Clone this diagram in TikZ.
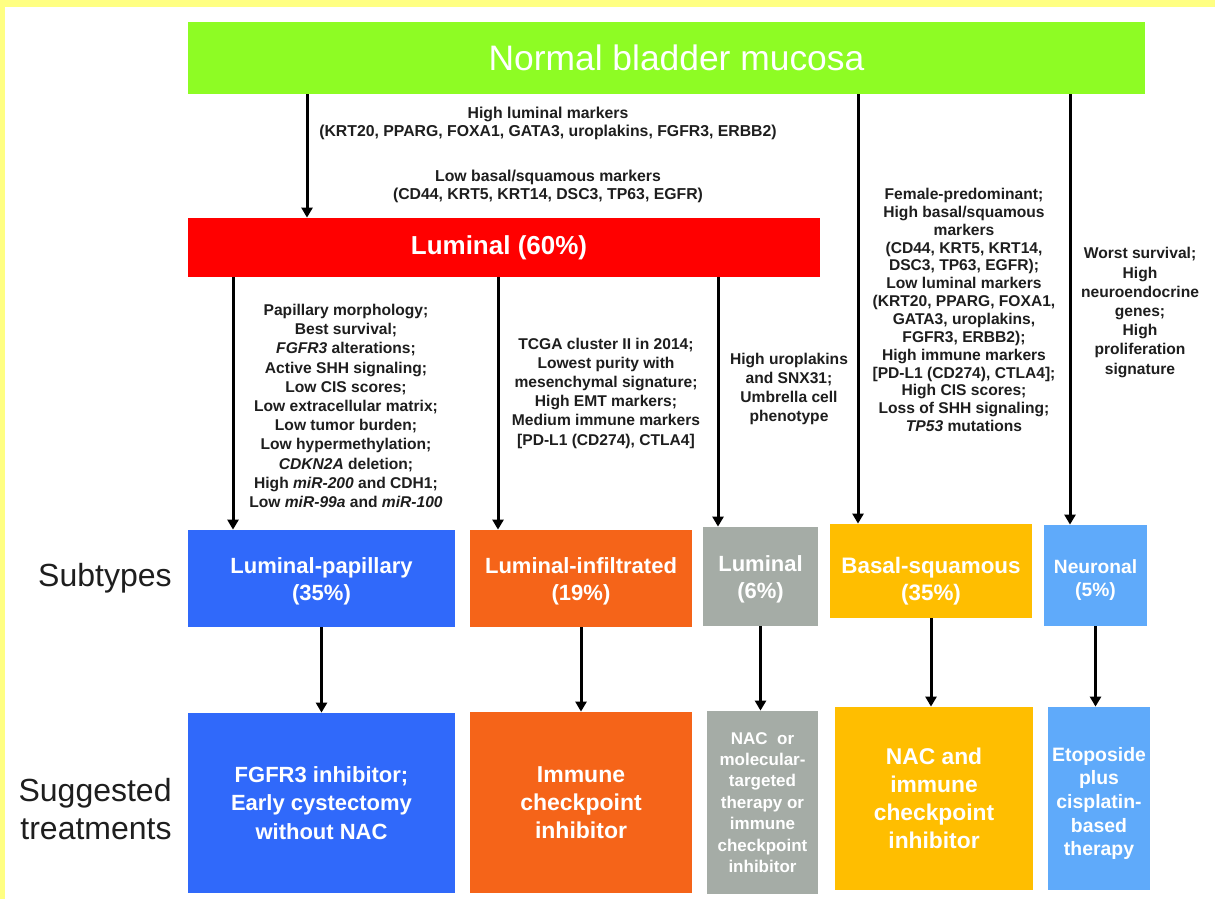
\documentclass[tikz,border=0pt]{standalone}
\usepackage{fontspec}
\setmainfont{Liberation Sans}
\usetikzlibrary{arrows.meta}
\definecolor{frameyellow}{RGB}{255,255,130}
\definecolor{cgreen}{RGB}{142,252,36}
\definecolor{cred}{RGB}{255,0,0}
\definecolor{cblue}{RGB}{48,105,250}
\definecolor{corange}{RGB}{245,100,25}
\definecolor{cgray}{RGB}{165,172,166}
\definecolor{camber}{RGB}{255,190,0}
\definecolor{clblue}{RGB}{95,170,250}
\definecolor{ctext}{RGB}{30,30,30}
\begin{document}
\begin{tikzpicture}[x=0.5pt,y=-0.5pt,
  box/.style={rectangle, inner sep=0pt, align=center, text=white, font=\bfseries},
  info/.style={align=center, inner sep=0pt, text=ctext, font=\bfseries\fontsize{7.8}{9.6}\selectfont},
  arr/.style={-{Triangle[length=5pt,width=5.5pt]}, line width=1.5pt, draw=black}]
\useasboundingbox (0,0) rectangle (1215,899);
\fill[white] (0,0) rectangle (1215,899);
\fill[frameyellow] (0,0) rectangle (1215,7);
\fill[frameyellow] (0,0) rectangle (5,899);

% top boxes
\node[box, fill=cgreen, minimum width=478.5pt, minimum height=36pt, font=\fontsize{17.7}{20}\selectfont] (green) at (666.5,58) {\hspace*{10pt}Normal bladder mucosa};
\node[box, fill=cred, minimum width=316pt, minimum height=29.5pt, font=\bfseries\fontsize{13}{15}\selectfont] (red) at (504,247.5) {Luminal (60\%)\hspace*{5pt}};

% subtypes
\node[box, fill=cblue, minimum width=133.5pt, minimum height=48.5pt, font=\bfseries\fontsize{11}{13.5}\selectfont] (lp) at (321.5,578.5) {\rule{0pt}{11pt}Luminal-papillary\\(35\%)};
\node[box, fill=corange, minimum width=111pt, minimum height=48.5pt, font=\bfseries\fontsize{11}{13.5}\selectfont] (li) at (581,578.5) {\rule{0pt}{11pt}Luminal-infiltrated\\(19\%)};
\node[box, fill=cgray, minimum width=57.5pt, minimum height=49.5pt, font=\bfseries\fontsize{11}{13.5}\selectfont] (lu) at (760.5,576.5) {\rule{0pt}{11pt}Luminal\\(6\%)};
\node[box, fill=camber, minimum width=101pt, minimum height=47pt, font=\bfseries\fontsize{11.2}{13.5}\selectfont] (bs) at (931,571) {\rule{0pt}{18pt}Basal-squamous\\(35\%)};
\node[box, fill=clblue, minimum width=51.5pt, minimum height=50.5pt, font=\bfseries\fontsize{9.6}{11.5}\selectfont] (ne) at (1095.5,575.5) {\rule{0pt}{11pt}Neuronal\\(5\%)};

% treatments
\node[box, fill=cblue, minimum width=133.5pt, minimum height=90pt, font=\bfseries\fontsize{11}{14.2}\selectfont] (lpT) at (321.5,803) {FGFR3 inhibitor;\\Early cystectomy\\without NAC};
\node[box, fill=corange, minimum width=111pt, minimum height=90.5pt, font=\bfseries\fontsize{11.5}{14}\selectfont] (liT) at (581,802.5) {Immune\\checkpoint\\inhibitor};
\node[box, fill=cgray, minimum width=55.5pt, minimum height=91.5pt, font=\bfseries\fontsize{8.5}{10.7}\selectfont] (luT) at (762.5,802.5) {NAC\ \ or\\molecular-\\targeted\\therapy or\\immune\\checkpoint\\inhibitor};
\node[box, fill=camber, minimum width=99pt, minimum height=91.5pt, font=\bfseries\fontsize{11.4}{14}\selectfont] (bsT) at (934,798.5) {NAC and\\immune\\checkpoint\\inhibitor};
\node[box, fill=clblue, minimum width=51pt, minimum height=91.5pt, font=\bfseries\fontsize{9.7}{11.8}\selectfont] (neT) at (1099,798.5) {\rule{0pt}{12pt}Etoposide\\plus\\cisplatin-\\based\\therapy};

% row labels
\node[anchor=east, align=right, inner sep=0pt, text=ctext, font=\fontsize{16}{19}\selectfont] (rowsub) at (172,578) {Subtypes};
\node[anchor=east, align=right, inner sep=0pt, text=ctext, font=\fontsize{16}{19}\selectfont] (rowtrt) at (172,809) {Suggested\\treatments};

% descriptive texts
\node[info, font=\bfseries\fontsize{7.9}{8.6}\selectfont] (hl) at (548,123.5) {High luminal markers\\(KRT20, PPARG, FOXA1, GATA3, uroplakins, FGFR3, ERBB2)};
\node[info, font=\bfseries\fontsize{7.9}{8.6}\selectfont] (lb) at (548,186.5) {Low basal/squamous markers\\(CD44, KRT5, KRT14, DSC3, TP63, EGFR)};
\node[info] (tlp) at (346,406) {Papillary morphology;\\Best survival;\\\textit{FGFR3} alterations;\\Active SHH signaling;\\Low CIS scores;\\Low extracellular matrix;\\Low tumor burden;\\Low hypermethylation;\\\textit{CDKN2A} deletion;\\High \textit{miR-200} and CDH1;\\Low \textit{miR-99a} and \textit{miR-100}};
\node[info] (tli) at (606,393) {TCGA cluster II in 2014;\\Lowest purity with\\mesenchymal signature;\\High EMT markers;\\Medium immune markers\\{[PD-L1 (CD274), CTLA4]}};
\node[info] (tlu) at (789,389) {High uroplakins\\and SNX31;\\Umbrella cell\\phenotype};
\node[info, font=\bfseries\fontsize{7.8}{8.93}\selectfont] (tbs) at (964,310) {Female-predominant;\\High basal/squamous\\markers\\(CD44, KRT5, KRT14,\\DSC3, TP63, EGFR);\\Low luminal markers\\(KRT20, PPARG, FOXA1,\\GATA3, uroplakins,\\FGFR3, ERBB2);\\High immune markers\\{[PD-L1 (CD274), CTLA4]};\\High CIS scores;\\Loss of SHH signaling;\\\textit{TP53} mutations};
\node[info] (tne) at (1140,312.5) {Worst survival;\\High\\neuroendocrine\\genes;\\High\\proliferation\\signature};

% arrow x positions
\coordinate (c1) at (307,0);
\coordinate (c2) at (233,0);
\coordinate (c3) at (498,0);
\coordinate (c4) at (718,0);
\coordinate (c5) at (858,0);
\coordinate (c6) at (1070,0);

\draw[arr] (green.south -| c1) -- (red.north -| c1);
\draw[arr] (red.south -| c2) -- (lp.north -| c2);
\draw[arr] (red.south -| c3) -- (li.north -| c3);
\draw[arr] (red.south -| c4) -- (lu.north -| c4);
\draw[arr] (green.south -| c5) -- (bs.north -| c5);
\draw[arr] (green.south -| c6) -- (ne.north -| c6);

\draw[arr] (lp.south) -- (lpT.north -| lp.south);
\draw[arr] (li.south) -- (liT.north -| li.south);
\draw[arr] (lu.south) -- (luT.north -| lu.south);
\draw[arr] (bs.south) -- (bsT.north -| bs.south);
\draw[arr] (ne.south) -- (neT.north -| ne.south);
\end{tikzpicture}
\end{document}
